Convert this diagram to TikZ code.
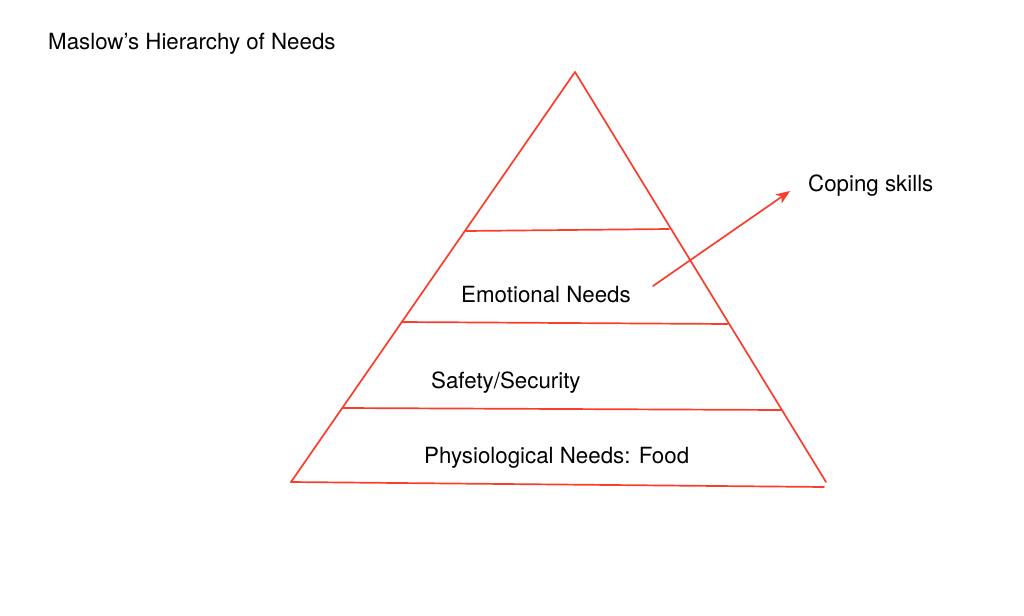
\documentclass[tikz,border=0pt]{standalone}
\usepackage{fontspec}
\setmainfont{TeX Gyre Heros}
\usetikzlibrary{calc}
\usetikzlibrary{arrows.meta}
\usetikzlibrary{positioning}
\definecolor{pencil red}{RGB}{250,62,46}
\tikzset{
  level line/.style={draw=pencil red,line width=1.7pt,line cap=round},
  level text/.style={anchor=base west,inner sep=0pt,font=\fontsize{22.3}{26}\selectfont}
}

\begin{document}
\begin{tikzpicture}[x=1pt,y=-1pt]
\useasboundingbox[fill=white] (0,0) rectangle (1024,615);

\coordinate (apex) at (575,72);
\coordinate (base left) at (291,482);
\coordinate (base right) at (826,482);
\coordinate (bottom right) at (824,487);

\draw[level line] (base left) -- (apex);
\draw[level line] (apex) -- (base right);
\draw[level line] (base left) -- (bottom right);

\draw[level line] (466,231) -- (669,229);
\draw[level line] (402,322) -- (728,324);
\draw[level line] (343,408) -- (781,410);

\node[level text] (title) at (48,50) {Maslow’s Hierarchy of Needs};
\node[level text] (emotional) at (461,302) {Emotional Needs};
\node[level text] (safety) at (431,388) {Safety/Security};
\node[level text] (food) at (424,463) {Physiological Needs: Food};
\node[level text] (coping) at (808,191) {Coping skills};

\coordinate (arrow start) at (653,286);
\coordinate (arrow end) at ($(coping.base west)+(-18,0)$);
\draw[level line,-{Stealth[length=14pt,width=11pt,inset=4pt]}] (arrow start) -- (arrow end);
\end{tikzpicture}
\end{document}
